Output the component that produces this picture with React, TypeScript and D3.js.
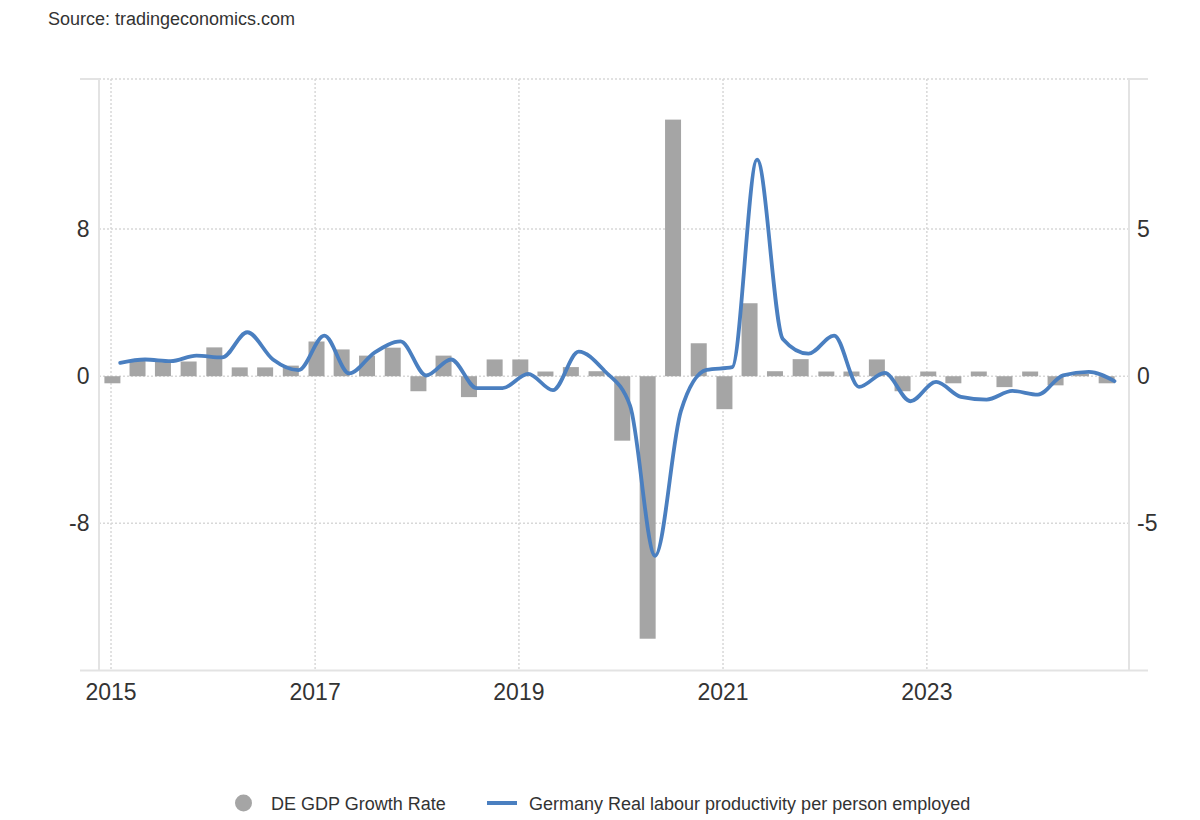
import React from "react";
import * as d3 from "d3";

const SOURCE_TEXT = "Source: tradingeconomics.com";

const quarters = [
  "2015Q1", "2015Q2", "2015Q3", "2015Q4",
  "2016Q1", "2016Q2", "2016Q3", "2016Q4",
  "2017Q1", "2017Q2", "2017Q3", "2017Q4",
  "2018Q1", "2018Q2", "2018Q3", "2018Q4",
  "2019Q1", "2019Q2", "2019Q3", "2019Q4",
  "2020Q1", "2020Q2", "2020Q3", "2020Q4",
  "2021Q1", "2021Q2", "2021Q3", "2021Q4",
  "2022Q1", "2022Q2", "2022Q3", "2022Q4",
  "2023Q1", "2023Q2", "2023Q3", "2023Q4",
  "2024Q1", "2024Q2", "2024Q3", "2024Q4",
];

// DE GDP Growth Rate (bars)
const gdpGrowth = [
  -0.24, 0.55, 0.55, 0.5,
  0.98, 0.3, 0.3, 0.36,
  1.18, 0.91, 0.7, 0.97,
  -0.51, 0.7, -0.71, 0.57,
  0.57, 0.16, 0.31, 0.17,
  -2.19, -8.92, 8.72, 1.12,
  -1.12, 2.48, 0.17, 0.58,
  0.16, 0.16, 0.57, -0.51,
  0.16, -0.24, 0.16, -0.37,
  0.16, -0.31, 0.08, -0.24,
];

// Germany Real labour productivity per person employed (line)
const productivity = [
  0.73, 0.91, 0.82, 1.12,
  1.02, 2.39, 0.91, 0.33,
  2.21, 0.15, 1.3, 1.89,
  0.04, 0.91, -0.65, -0.65,
  0.13, -0.76, 1.34, 0.3,
  -1.6, -9.76, -1.9, 0.34,
  0.49, 11.78, 2.03, 1.23,
  2.21, -0.58, 0.18, -1.36,
  -0.31, -1.12, -1.27, -0.8,
  -1.0, 0.05, 0.24, -0.27,
];

const yearTicks = [2015, 2017, 2019, 2021, 2023];
const leftTicks = [8, 0, -8];
const rightTicks = [5, 0, -5];
const legendLabels = [
  "DE GDP Growth Rate",
  "Germany Real labour productivity per person employed",
];

const FONT = "'Liberation Sans', Arial, Helvetica, sans-serif";
const BAR_COLOR = "#a5a5a5";
const LINE_COLOR = "#4a7fc0";
const GRID_COLOR = "#d8d8d8";
const AXIS_COLOR = "#e3e3e3";
const TEXT_COLOR = "#333333";

function quarterDate(q: string, monthOffset: number, day: number) {
  const year = +q.slice(0, 4);
  const qi = +q.slice(5) - 1;
  return new Date(year, qi * 3 + monthOffset, day);
}

export default function App() {
  const left = 99;
  const right = 1129;
  const top = 79;
  const bottom = 670.5;

  const x = d3
    .scaleTime()
    .domain([new Date(2014, 10, 19), new Date(2024, 11, 25)])
    .range([left, right]);
  const yLeft = d3.scaleLinear().domain([-16, 16.16]).range([bottom, top]);
  const yRight = d3.scaleLinear().domain([-10, 10.1]).range([bottom, top]);

  const barData = quarters.map((q, i) => ({ date: quarterDate(q, 0, 6), v: gdpGrowth[i] }));
  const lineData = quarters.map((q, i) => ({ date: quarterDate(q, 1, 3), v: productivity[i] }));

  const line = d3
    .line<{ date: Date; v: number }>()
    .x((d) => x(d.date))
    .y((d) => yLeft(d.v))
    .curve(d3.curveMonotoneX);

  const barW = 16;
  const zeroY = yRight(0);

  return (
    <svg
      width={1200}
      height={820}
      style={{ position: "absolute", left: 0, top: 0, background: "#fff" }}
      fontFamily={FONT}
    >
      <text x={48} y={25} fontSize={18} fill={TEXT_COLOR}>
        {SOURCE_TEXT}
      </text>

      {/* horizontal gridlines */}
      <line x1={left} x2={right} y1={top} y2={top} stroke={GRID_COLOR} strokeWidth={1.5} strokeDasharray="2,2" />
      {leftTicks.map((t) => (
        <line
          key={"hg" + t}
          x1={left}
          x2={right}
          y1={yLeft(t)}
          y2={yLeft(t)}
          stroke={GRID_COLOR}
          strokeWidth={1.5}
          strokeDasharray="2,2"
        />
      ))}
      {/* vertical gridlines */}
      {yearTicks.map((yr) => (
        <line
          key={"vg" + yr}
          x1={x(new Date(yr, 0, 1))}
          x2={x(new Date(yr, 0, 1))}
          y1={top}
          y2={bottom}
          stroke={GRID_COLOR}
          strokeWidth={1.5}
          strokeDasharray="2,2"
        />
      ))}

      {/* axes frames */}
      <line x1={left} x2={left} y1={top} y2={bottom} stroke={AXIS_COLOR} strokeWidth={2} />
      <line x1={80} x2={left} y1={top} y2={top} stroke={AXIS_COLOR} strokeWidth={2} />
      <line x1={right} x2={right} y1={top} y2={bottom} stroke={AXIS_COLOR} strokeWidth={2} />
      <line x1={right} x2={1148} y1={top} y2={top} stroke={AXIS_COLOR} strokeWidth={2} />
      <line x1={80} x2={1148} y1={bottom} y2={bottom} stroke={AXIS_COLOR} strokeWidth={2} />

      {/* bars */}
      {barData.map((d, i) => {
        const yv = yRight(d.v);
        return (
          <rect
            key={"b" + i}
            x={x(d.date) - barW / 2}
            y={Math.min(yv, zeroY)}
            width={barW}
            height={Math.abs(yv - zeroY)}
            fill={BAR_COLOR}
          />
        );
      })}

      {/* line */}
      <path d={line(lineData) || ""} fill="none" stroke={LINE_COLOR} strokeWidth={3.8} strokeLinejoin="round" strokeLinecap="round" />

      {/* left tick labels */}
      {leftTicks.map((t) => (
        <text key={"lt" + t} x={89.5} y={yLeft(t) + 8} fontSize={23} fill={TEXT_COLOR} textAnchor="end">
          {t}
        </text>
      ))}
      {/* right tick labels */}
      {rightTicks.map((t) => (
        <text key={"rt" + t} x={1137} y={yRight(t) + 8} fontSize={23} fill={TEXT_COLOR} textAnchor="start">
          {t}
        </text>
      ))}
      {/* year labels */}
      {yearTicks.map((yr) => (
        <text key={"yl" + yr} x={x(new Date(yr, 0, 1))} y={700} fontSize={23} fill={TEXT_COLOR} textAnchor="middle">
          {yr}
        </text>
      ))}

      {/* legend */}
      <circle cx={243.5} cy={803} r={8.5} fill={BAR_COLOR} />
      <text x={271} y={809.5} fontSize={18} fill={TEXT_COLOR}>
        {legendLabels[0]}
      </text>
      <line x1={487} x2={517} y1={803} y2={803} stroke={LINE_COLOR} strokeWidth={4} />
      <text x={529} y={809.5} fontSize={18} fill={TEXT_COLOR}>
        {legendLabels[1]}
      </text>
    </svg>
  );
}
